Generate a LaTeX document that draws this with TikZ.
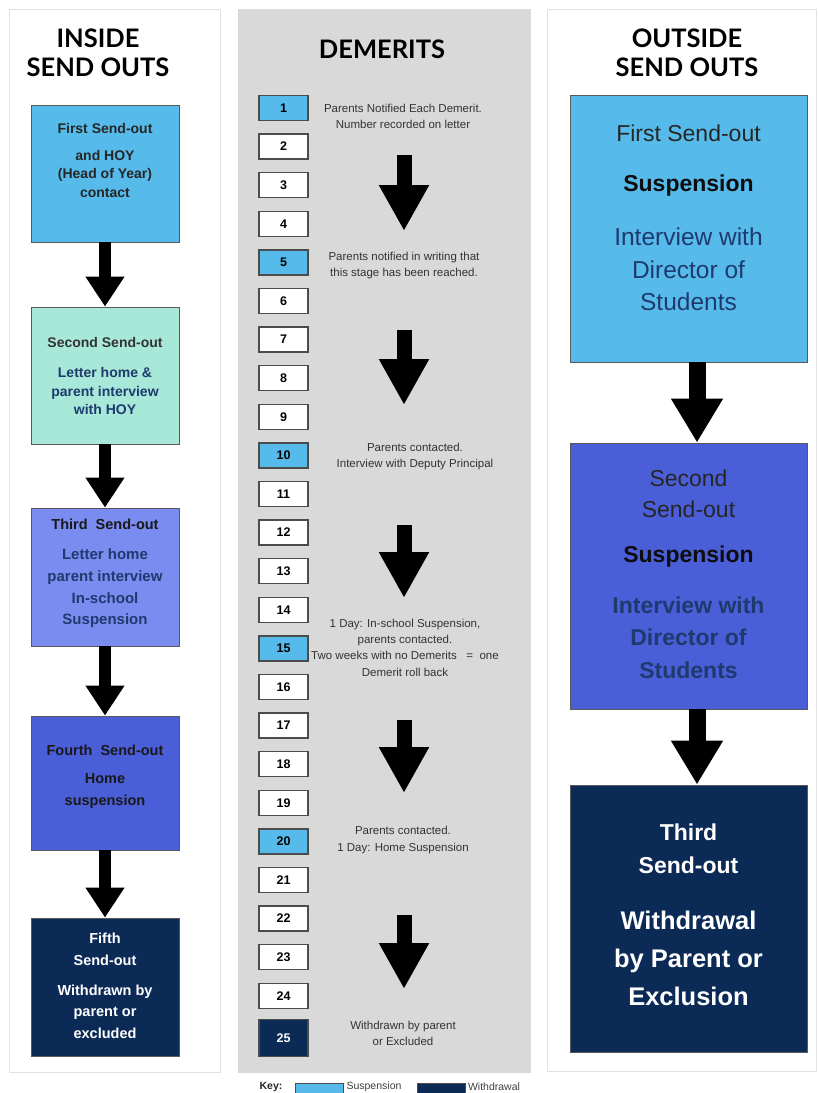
\documentclass[tikz,border=0pt]{standalone}
\usepackage{fontspec}
\setmainfont{Liberation Sans}
\newfontfamily\headfont{Lato}
\usetikzlibrary{arrows.meta}
\definecolor{lblue}{HTML}{56BBEA}
\definecolor{mint}{HTML}{A8E8D8}
\definecolor{peri}{HTML}{7A8CF0}
\definecolor{royal}{HTML}{4A5ED8}
\definecolor{navy}{HTML}{0C2A56}
\definecolor{txtnavy}{HTML}{1E3A6E}
\definecolor{midgray}{HTML}{D9D9D9}
\definecolor{panelline}{HTML}{E2E2E2}
\tikzset{
  panelbox/.style={fill=white, draw=panelline, line width=1pt},
  head/.style={align=center, font=\headfont\bfseries\fontsize{25.5}{29}\selectfont, text=black},
  lbox/.style={draw=black!65, line width=0.8pt, minimum width=148pt, inner sep=0pt},
  rbox/.style={draw=black!65, line width=0.8pt, minimum width=237pt, inner sep=0pt},
  nbox/.style={draw=black!70, line width=1.4pt, minimum width=49pt, minimum height=25pt, inner sep=0pt, font=\bfseries\fontsize{12.5}{13}\selectfont},
  ltxt/.style={align=center, inner sep=0pt, font=\bfseries\fontsize{14}{18.5}\selectfont},
  rtxt/.style={align=center, inner sep=0pt, font=\fontsize{23}{32}\selectfont},
  mtxt/.style={align=center, inner sep=0pt, text=black!80, font=\fontsize{11.5}{16.7}\selectfont},
  keytxt/.style={inner sep=0pt, text=black!75, font=\fontsize{10.5}{12}\selectfont},
  sarrow/.style={line width=12pt, black, -{Triangle[width=37pt,length=30pt]}},
  marrow/.style={line width=15pt, black, -{Triangle[width=47pt,length=46pt]}},
  rarrow/.style={line width=17pt, black, -{Triangle[width=49pt,length=44pt]}},
}
\begin{document}
\begin{tikzpicture}[x=1pt,y=-1pt]
\useasboundingbox (0,0) rectangle (818,1093);
\clip (0,0) rectangle (818,1093);
\fill[white] (0,0) rectangle (818,1093);
% panels
\draw[panelbox] (9,9) rectangle (220,1072);
\fill[midgray] (238,9) rectangle (531,1073);
\draw[panelbox] (547,9) rectangle (816,1071);
% headers
\node[head] (hl) at (98,53) {INSIDE\\SEND OUTS};
\node[head] (hm) at (382,49) {DEMERITS};
\node[head] (hr) at (687,53) {OUTSIDE\\SEND OUTS};

% ---------- left column ----------
\node[lbox, fill=lblue, minimum height=137pt] (l1) at (105,173.5) {};
\node[ltxt, text=black!85] (l1a) at (105,128) {First Send-out};
\node[ltxt, text=black!85] (l1b) at (105,173.5) {and HOY\\(Head of Year)\\contact};

\node[lbox, fill=mint, minimum height=137pt] (l2) at (105,375.5) {};
\node[ltxt, text=black!80] (l2a) at (105,342) {Second Send-out};
\node[ltxt, text=txtnavy] (l2b) at (105,391) {Letter home \&\\parent interview\\with HOY};

\node[lbox, fill=peri, minimum height=138pt] (l3) at (105,577) {};
\node[ltxt, text=black!90, font=\bfseries\fontsize{14.5}{18}\selectfont] (l3a) at (105,524) {Third\ \ Send-out};
\node[ltxt, text=txtnavy, font=\bfseries\fontsize{15}{21.7}\selectfont] (l3b) at (105,588.5) {Letter home\\parent interview\\In-school\\Suspension};

\node[lbox, fill=royal, minimum height=134pt] (l4) at (105,783) {};
\node[ltxt, text=black!90, font=\bfseries\fontsize{14.5}{18}\selectfont] (l4a) at (105,750) {Fourth\ \ Send-out};
\node[ltxt, text=black!90, font=\bfseries\fontsize{14.5}{22}\selectfont] (l4b) at (105,791) {Home\\suspension};

\node[lbox, fill=navy, minimum height=138pt] (l5) at (105,987) {};
\node[ltxt, text=white, font=\bfseries\fontsize{14.5}{22}\selectfont] (l5a) at (105,949) {Fifth\\Send-out};
\node[ltxt, text=white, font=\bfseries\fontsize{14.5}{21.5}\selectfont] (l5b) at (105,1011.5) {Withdrawn by\\parent or\\excluded};

\draw[sarrow] (l1.south) -- (l2.north);
\draw[sarrow] (l2.south) -- (l3.north);
\draw[sarrow] (l3.south) -- (l4.north);
\draw[sarrow] (l4.south) -- (l5.north);

% ---------- middle column ----------
\foreach \n/\c in {1/lblue,2/white,3/white,4/white,5/lblue,6/white,7/white,8/white,9/white,10/lblue,11/white,12/white,13/white,14/white,15/lblue,16/white,17/white,18/white,19/white,20/lblue,21/white,22/white,23/white,24/white}{
  \pgfmathsetmacro\yy{108+(\n-1)*38.6}
  \node[nbox, fill=\c] (n\n) at (283.5,\yy) {\n};
}
\node[nbox, fill=navy, text=white, minimum height=37pt] (n25) at (283.5,1038) {25};

\node[mtxt] (t1) at (403,116.5) {Parents Notified Each Demerit.\\Number recorded on letter};
\node[mtxt] (t5) at (404,265.5) {Parents notified in writing that\\this stage has been reached.};
\node[mtxt] (t10) at (415,456.5) {Parents contacted.\\Interview with Deputy Principal};
\node[mtxt, font=\fontsize{11.5}{16.4}\selectfont] (t15) at (405,647.5) {1 Day: In-school Suspension,\\parents contacted.\\Two weeks with no Demerits\ \ \ =\ \ one\\Demerit roll back};
\node[mtxt] (t20) at (403,840) {Parents contacted.\\1 Day: Home Suspension};
\node[mtxt] (t25) at (403,1033.5) {Withdrawn by parent\\or Excluded};

\coordinate (m1s) at (404,155); \coordinate (m1e) at (404,231);
\coordinate (m2s) at (404,330); \coordinate (m2e) at (404,405);
\coordinate (m3s) at (404,525); \coordinate (m3e) at (404,598);
\coordinate (m4s) at (404,720); \coordinate (m4e) at (404,793);
\coordinate (m5s) at (404,915); \coordinate (m5e) at (404,989);
\draw[marrow] (m1s) -- (m1e);
\draw[marrow] (m2s) -- (m2e);
\draw[marrow] (m3s) -- (m3e);
\draw[marrow] (m4s) -- (m4e);
\draw[marrow] (m5s) -- (m5e);

% key
\node[keytxt, font=\bfseries\fontsize{10.5}{12}\selectfont, text=black!85] (keyl) at (271,1086.5) {Key:};
\node[draw=black!70, line width=1pt, fill=lblue, minimum width=48pt, minimum height=17pt, inner sep=0pt] (k1) at (319,1091.5) {};
\node[keytxt] (k1t) at (374,1086.5) {Suspension};
\node[draw=black!70, line width=1pt, fill=navy, minimum width=48pt, minimum height=17pt, inner sep=0pt] (k2) at (441,1091.5) {};
\node[keytxt] (k2t) at (494,1086.5) {Withdrawal};

% ---------- right column ----------
\node[rbox, fill=lblue, minimum height=267pt] (r1) at (688.5,228.5) {};
\node[rtxt, text=black!85] (r1a) at (688.5,133) {First Send-out};
\node[rtxt, text=black!95, font=\bfseries\fontsize{23}{28}\selectfont] (r1b) at (688.5,186) {Suspension};
\node[rtxt, text=txtnavy, font=\fontsize{24.5}{32.5}\selectfont] (r1c) at (688.5,269.5) {Interview with\\Director of\\Students};

\node[rbox, fill=royal, minimum height=266pt] (r2) at (688.5,576) {};
\node[rtxt, text=black!85, font=\fontsize{23}{31}\selectfont] (r2a) at (688.5,493.5) {Second\\Send-out};
\node[rtxt, text=black!95, font=\bfseries\fontsize{23}{28}\selectfont] (r2b) at (688.5,557) {Suspension};
\node[rtxt, text=txtnavy, font=\bfseries\fontsize{23}{32.5}\selectfont] (r2c) at (688.5,637.5) {Interview with\\Director of\\Students};

\node[rbox, fill=navy, minimum height=267pt] (r3) at (688.5,918.5) {};
\node[rtxt, text=white, font=\bfseries\fontsize{23}{33}\selectfont] (r3a) at (688.5,848.5) {Third\\Send-out};
\node[rtxt, text=white, font=\bfseries\fontsize{25.5}{38}\selectfont] (r3b) at (688.5,958) {Withdrawal\\by Parent or\\Exclusion};

\draw[rarrow] ([xshift=8.5pt]r1.south) -- ([xshift=8.5pt]r2.north);
\draw[rarrow] ([xshift=8.5pt]r2.south) -- ([xshift=8.5pt]r3.north);
\end{tikzpicture}
\end{document}
